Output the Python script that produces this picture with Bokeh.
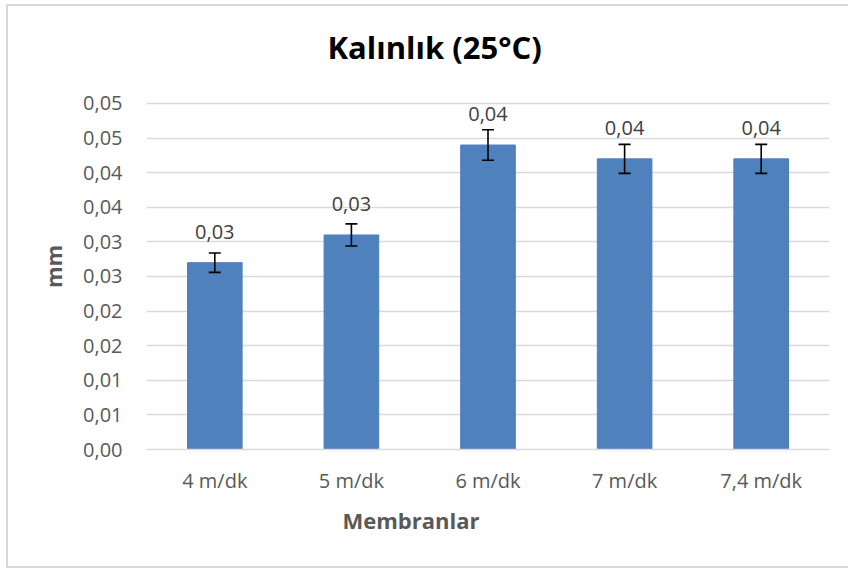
from bokeh.plotting import figure
from bokeh.models import (ColumnDataSource, Whisker, TeeHead, FixedTicker, Title,
                          Range1d)
from bokeh.core.properties import value
from bokeh.embed import file_html
from bokeh.resources import INLINE

# ---- data ----
categories = ["4 m/dk", "5 m/dk", "6 m/dk", "7 m/dk", "7,4 m/dk"]
thickness = [0.0270, 0.0310, 0.0440, 0.0420, 0.0420]
std_err = [0.0014, 0.0016, 0.0022, 0.0021, 0.0021]
y_ticks = [0.0, 0.005, 0.010, 0.015, 0.020, 0.025, 0.030, 0.035, 0.040, 0.045, 0.050]
y_tick_labels = ["0,00", "0,01", "0,01", "0,02", "0,02", "0,03", "0,03",
                 "0,04", "0,04", "0,05", "0,05"]
title_text = "Kalınlık (25°C)"
x_title = "Membranlar"
y_title = "mm"

FONT = "Open Sans"
GREY = "#595959"

src = ColumnDataSource(dict(
    cat=categories,
    val=thickness,
    upper=[v + e for v, e in zip(thickness, std_err)],
    lower=[v - e for v, e in zip(thickness, std_err)],
    lab=[f"{v:.2f}".replace(".", ",") for v in thickness],
))

# frame extends a little above the top gridline (invisible: no outline, white fill)
p = figure(x_range=categories, y_range=Range1d(0, 0.05289),
           width=840, height=560, output_backend="svg", toolbar_location=None,
           min_border_left=138, min_border_right=21, min_border_top=77,
           min_border_bottom=121)
p.margin = (4, 0, 0, 6)
p.styles = {"box-sizing": "content-box",
            "border-left": "2px solid #d9d9d9",
            "border-top": "2px solid #d9d9d9",
            "border-bottom": "2px solid #d9d9d9"}
p.outline_line_color = None
p.background_fill_color = "white"
p.border_fill_color = "white"

p.title = Title(text=title_text, align="left", offset=181, standoff=32,
                text_font=FONT, text_font_size="31px", text_font_style="bold",
                text_color="black")

p.vbar(x="cat", top="val", width=0.4, source=src, fill_color="#4f81bd",
       line_color="#4f81bd")

w = Whisker(base="cat", upper="upper", lower="lower", source=src,
            line_color="black", line_width=1.6, level="overlay",
            upper_head=TeeHead(size=12, line_color="black", line_width=1.6),
            lower_head=TeeHead(size=12, line_color="black", line_width=1.6))
p.add_layout(w)

p.text(x="cat", y="val", text="lab", source=src, text_align="center",
       text_baseline="alphabetic", y_offset=-31, text_font=value(FONT),
       text_font_size="20px", text_color="#404040")

# axes
p.yaxis.ticker = FixedTicker(ticks=y_ticks)
p.yaxis.major_label_overrides = {t: l for t, l in zip(y_ticks, y_tick_labels)}
p.yaxis.axis_line_color = None
p.yaxis.major_tick_line_color = None
p.yaxis.minor_tick_line_color = None
p.yaxis.major_label_text_font = FONT
p.yaxis.major_label_text_font_size = "20px"
p.yaxis.major_label_text_color = GREY
p.yaxis.major_label_standoff = 18
p.yaxis.axis_label = y_title
p.yaxis.axis_label_text_font = FONT
p.yaxis.axis_label_text_font_size = "22px"
p.yaxis.axis_label_text_font_style = "bold"
p.yaxis.axis_label_text_color = GREY
p.yaxis.axis_label_standoff = 12

p.xaxis.axis_line_color = "#d9d9d9"
p.xaxis.axis_line_width = 1.5
p.xaxis.major_tick_line_color = None
p.xaxis.minor_tick_line_color = None
p.xaxis.major_label_text_font = FONT
p.xaxis.major_label_text_font_size = "20px"
p.xaxis.major_label_text_color = GREY
p.xaxis.major_label_standoff = 11

p.xgrid.grid_line_color = None
p.ygrid.grid_line_color = "#d9d9d9"
p.ygrid.grid_line_width = 1.5

p.add_layout(Title(text=x_title, align="left", offset=196, standoff=12,
                   text_font=FONT, text_font_size="22px", text_font_style="bold",
                   text_color=GREY), "below")

open("out.html", "w").write(file_html(p, INLINE))
